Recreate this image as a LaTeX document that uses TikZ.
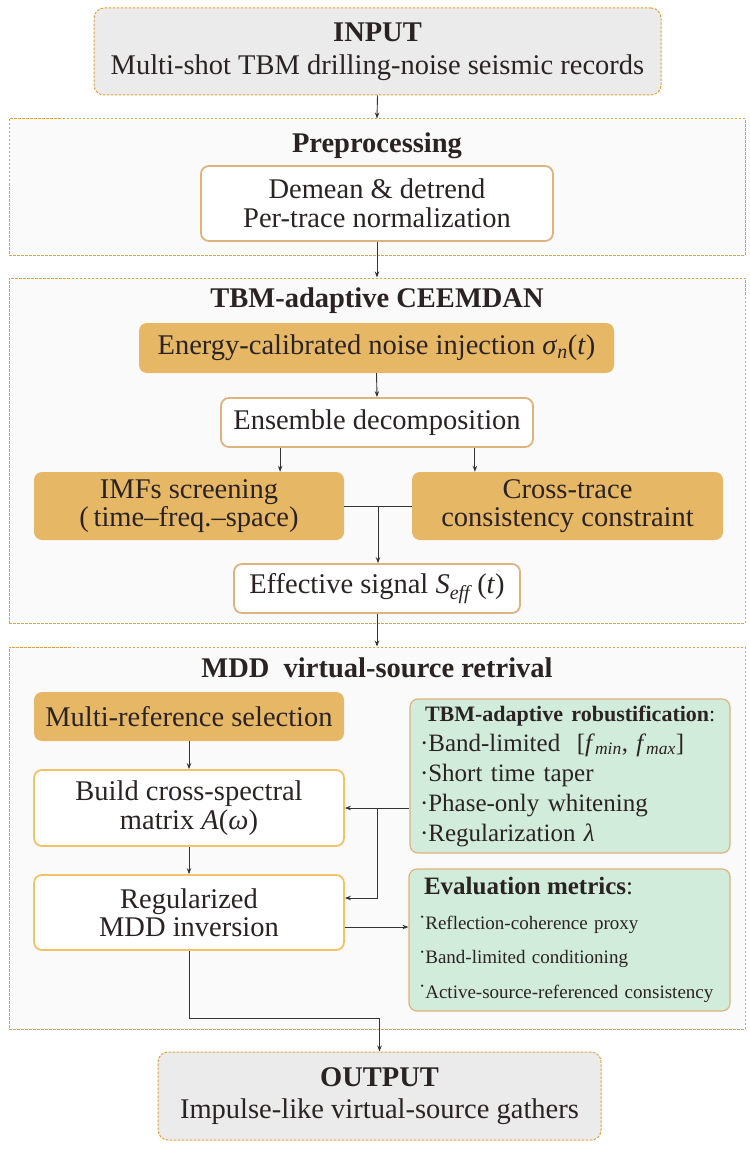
\documentclass[tikz,border=0pt]{standalone}
\usepackage{fontspec}
\setmainfont{Liberation Serif}
\usetikzlibrary{arrows.meta,calc}
\definecolor{cont}{HTML}{FAFAFA}
\definecolor{dashor}{HTML}{E4A03C}
\definecolor{iofill}{HTML}{EBEBEB}
\definecolor{tanc}{HTML}{DDB47E}
\definecolor{yor}{HTML}{F2C267}
\definecolor{gold}{HTML}{E6B865}
\definecolor{mint}{HTML}{D1ECDB}
\definecolor{ink}{HTML}{2B2323}
\definecolor{arr}{HTML}{333333}
\tikzset{
 base/.style={font=\fontsize{28.5}{28.5}\selectfont, text=ink, align=center, inner sep=0pt},
 container/.style={draw=dashor, fill=cont, dash pattern=on 2.5pt off 1.5pt, line width=1pt, inner sep=0pt},
 iobox/.style={base, font=\fontsize{28.5}{32.5}\selectfont, draw=dashor, fill=iofill, dash pattern=on 2.5pt off 1.5pt, line width=1pt, rounded corners=10pt},
 whitebox/.style={base, draw=tanc, fill=white, line width=1.8pt, rounded corners=8pt},
 ybox/.style={whitebox, draw=yor},
 goldbox/.style={base, fill=gold, rounded corners=8pt},
 greenbox/.style={draw=tanc, fill=mint, line width=1.2pt, rounded corners=8pt, text=ink, align=left, inner xsep=10pt, inner ysep=0pt},
 conn/.style={draw=arr, line width=0.9pt},
 arrow/.style={conn, -{Stealth[length=6pt,width=4.5pt]}},
 title/.style={font=\fontsize{28.5}{28.5}\selectfont\bfseries, text=ink, inner sep=0pt, anchor=base},
}
\begin{document}
\begin{tikzpicture}[x=1pt,y=-1pt]
\useasboundingbox[fill=white] (0,0) rectangle (749,1150);

% containers
\node[container, minimum width=736pt, minimum height=136pt] (pre) at (377,187) {};
\node[container, minimum width=736pt, minimum height=345pt] (cee) at (377,450.5) {};
\node[container, minimum width=736pt, minimum height=382pt] (mdd) at (377,838) {};

\node[title] (pretitle) at (377,152.5) {Preprocessing};
\node[title] (ceetitle) at (377,307.5) {TBM-adaptive CEEMDAN};
\node[title] (mddtitle) at (377,677.5) {MDD \ virtual-source retrival};

% input / output
\node[iobox, minimum width=567pt, minimum height=87pt] (input) at (377.5,51.5)
  {\textbf{INPUT}\\Multi-shot TBM drilling-noise seismic records};
\node[iobox, minimum width=443pt, minimum height=88pt] (output) at (379.5,1096)
  {\textbf{OUTPUT}\\Impulse-like virtual-source gathers};

% preprocessing
\node[whitebox, minimum width=352pt, minimum height=75pt] (prep) at (377,203.5)
  {Demean \& detrend\\Per-trace normalization};

% CEEMDAN
\node[goldbox, minimum width=475pt, minimum height=50pt] (energy) at (376.5,348)
  {Energy-calibrated noise injection \textit{σ}\textsubscript{\textit{n}}(\textit{t})};
\node[whitebox, minimum width=312pt, minimum height=49pt] (ens) at (377,422.5)
  {Ensemble decomposition};
\node[goldbox, minimum width=310pt, minimum height=68pt] (imf) at (189,506)
  {IMFs screening\\(\,time–freq.–space)};
\node[goldbox, minimum width=311pt, minimum height=68pt] (cross) at (567.5,506)
  {Cross-trace\\consistency constraint};
\node[whitebox, minimum width=286pt, minimum height=49pt] (eff) at (377,588.5)
  {Effective signal \textit{S}\textsubscript{\textit{eff}}\,(\textit{t})};

% MDD
\node[goldbox, minimum width=310pt, minimum height=49pt] (mref) at (189,716.5)
  {Multi-reference selection};
\node[ybox, minimum width=310pt, minimum height=76pt] (build) at (189,808)
  {Build cross-spectral\\matrix \textit{A}(\textit{ω})};
\node[ybox, minimum width=310pt, minimum height=75pt] (reg) at (189,912.5)
  {Regularized\\MDD inversion};

\node[greenbox, font=\fontsize{25}{30}\selectfont, text width=300pt, minimum height=154pt] (tbm) at (570,776)
  {\hspace*{5pt}{\fontsize{22}{26}\selectfont\textbf{TBM-adaptive robustification}:}\\
   ·Band-limited \ [\textit{f}\textsubscript{\textit{min}}, \textit{f}\textsubscript{\textit{max}}]\\
   ·Short time taper\\
   ·Phase-only whitening\\
   ·Regularization \textit{λ}};
\node[greenbox, font=\fontsize{19}{34.5}\selectfont, text width=301pt, minimum height=142pt] (eval) at (569.5,940)
  {\hspace*{5pt}{\fontsize{25}{28}\selectfont\textbf{Evaluation metrics}:}\\
   \raisebox{0.3em}{·}Reflection-coherence proxy\\
   \raisebox{0.3em}{·}Band-limited conditioning\\
   \raisebox{0.3em}{·}Active-source-referenced consistency};

% connectors
\draw[arrow] (input.south) -- (pre.north);
\draw[arrow] (prep.south) -- (cee.north);
\draw[arrow] (energy.south) -- (ens.north);
\coordinate (ea) at ([xshift=60pt]ens.south west);
\coordinate (eb) at ([xshift=-59pt]ens.south east);
\draw[arrow] (ea) -- (ea |- imf.north);
\draw[arrow] (eb) -- (eb |- cross.north);
\draw[conn] (imf.east) -- (cross.west);
\coordinate (j) at ($(imf.east)!0.5!(cross.west)$);
\draw[arrow] (j) -- (j |- eff.north);
\draw[arrow] (eff.south) -- (mdd.north);
\draw[arrow] (mref.south) -- (build.north);
\draw[arrow] (build.south) -- (reg.north);
\coordinate (k) at ($(build.east)!0.5!(tbm.west |- build.east)$);
\draw[conn] (tbm.west |- build.east) -- (k);
\draw[arrow] (k) -- (build.east);
\coordinate (ru) at ([yshift=14.5pt]reg.east);
\coordinate (rd) at ([yshift=-14.5pt]reg.east);
\draw[arrow] (k) |- (ru);
\draw[arrow] (rd) -- (eval.west |- rd);
\draw[arrow] (reg.south) -- ++(0,68) -| (output.north);
\end{tikzpicture}
\end{document}
